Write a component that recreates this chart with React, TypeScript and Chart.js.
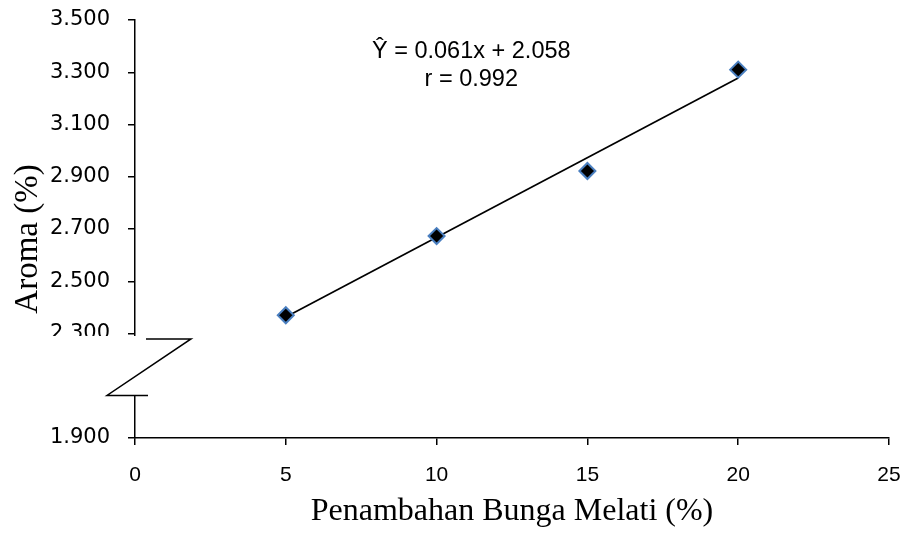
import React, { useEffect, useRef } from "react";
import { Chart, registerables } from "chart.js";

Chart.register(...registerables);

// ---- data ----
const categories = [5, 10, 15, 20];
const aromaValues = [2.37, 2.673, 2.922, 3.31];
const yTickValues = [1.9, 2.1, 2.3, 2.5, 2.7, 2.9, 3.1, 3.3, 3.5];
const xTickValues = [0, 5, 10, 15, 20, 25];
const trendSlope = 0.061;
const trendIntercept = 2.058;
const trendRange = [5, 20];
const equationLines = ["Ŷ = 0.061x + 2.058", "r = 0.992"];
const xTitle = "Penambahan Bunga Melati (%)";
const yTitle = "Aroma (%)";

// ---- layout / style constants ----
const BREAK_HI = 2.2905;
const BREAK_LO = 2.0627;
const EQ_X = 11.15;
const EQ_Y = 3.356;

const overlayPlugin = {
  id: "overlay",
  afterDraw(chart: any) {
    const { ctx, chartArea, scales } = chart;
    const xs = scales.x;
    const ys = scales.y;
    ctx.save();
    // axis break: white mask then zig-zag
    const top = ys.getPixelForValue(BREAK_HI);
    const bot = ys.getPixelForValue(BREAK_LO);
    const ax = chartArea.left;
    ctx.fillStyle = "#ffffff";
    ctx.fillRect(ax - 95, top, 97, bot - top);
    ctx.strokeStyle = "#000000";
    ctx.lineWidth = 1.5;
    ctx.beginPath();
    ctx.moveTo(ax + 11, top + 3);
    ctx.lineTo(ax + 56, top + 3);
    ctx.lineTo(ax - 28, bot);
    ctx.lineTo(ax + 13, bot);
    ctx.stroke();

    // equation text
    ctx.fillStyle = "#000000";
    ctx.font = '23.5px "Liberation Sans", Arial, sans-serif';
    ctx.textAlign = "center";
    ctx.textBaseline = "alphabetic";
    const ex = xs.getPixelForValue(EQ_X);
    const ey = ys.getPixelForValue(EQ_Y);
    equationLines.forEach((t, i) => ctx.fillText(t, ex, ey + i * 28.5));

    // axis titles
    ctx.font = '32px "Liberation Serif", "Times New Roman", serif';
    ctx.fillText(xTitle, (chartArea.left + chartArea.right) / 2, 520);
    ctx.save();
    ctx.font = '33px "Liberation Serif", "Times New Roman", serif';
    ctx.translate(37, 239);
    ctx.rotate(-Math.PI / 2);
    ctx.fillText(yTitle, 0, 0);
    ctx.restore();
    ctx.restore();
  },
};

export default function App() {
  const canvasRef = useRef<HTMLCanvasElement | null>(null);

  useEffect(() => {
    if (!canvasRef.current) return;
    const trendData = trendRange.map((x) => ({ x, y: trendSlope * x + trendIntercept }));
    const chart = new Chart(canvasRef.current, {
      type: "scatter",
      data: {
        datasets: [
          {
            type: "line",
            label: "trend",
            data: trendData,
            borderColor: "#000000",
            borderWidth: 1.7,
            pointRadius: 0,
            fill: false,
            order: 2,
          } as any,
          {
            label: "Aroma",
            data: categories.map((x, i) => ({ x, y: aromaValues[i] })),
            pointStyle: "rectRot",
            pointRadius: 8,
            pointBackgroundColor: "#000000",
            pointBorderColor: "#4a7fc0",
            pointBorderWidth: 2,
            order: 1,
          },
        ],
      },
      options: {
        animation: false,
        responsive: true,
        maintainAspectRatio: false,
        layout: { padding: { left: 0, top: 20, right: 17, bottom: 0 } },
        plugins: { legend: { display: false }, tooltip: { enabled: false } },
        scales: {
          x: {
            type: "linear",
            min: 0,
            max: 25,
            afterBuildTicks: (s: any) => {
              s.ticks = xTickValues.map((v) => ({ value: v }));
            },
            afterFit: (s: any) => {
              s.height = 95;
              s.paddingLeft = 0;
              s.paddingRight = 0;
              s.paddingTop = 0;
              s.paddingBottom = 0;
            },
            border: { display: true, color: "#000000", width: 1.5 },
            grid: { drawOnChartArea: false, drawTicks: true, tickLength: 7, color: "#000000", lineWidth: 1.5 },
            ticks: {
              color: "#000000",
              padding: 18,
              font: { family: '"Liberation Sans", Arial, sans-serif', size: 21 },
              callback: (v: any) => String(v),
            },
          },
          y: {
            type: "linear",
            min: 1.9,
            max: 3.5,
            afterBuildTicks: (s: any) => {
              s.ticks = yTickValues.map((v) => ({ value: v }));
            },
            afterFit: (s: any) => {
              s.width = 135;
              s.paddingLeft = 0;
              s.paddingRight = 0;
              s.paddingTop = 0;
              s.paddingBottom = 0;
            },
            border: { display: true, color: "#000000", width: 1.5 },
            grid: { drawOnChartArea: false, drawTicks: true, tickLength: 7, color: "#000000", lineWidth: 1.5 },
            ticks: {
              color: "#000000",
              padding: 18,
              font: { family: '"DejaVu Sans", sans-serif', size: 21 },
              callback: (v: any) => Number(v).toFixed(3),
            },
          },
        },
      },
      plugins: [overlayPlugin],
    });
    return () => chart.destroy();
  }, []);

  return (
    <div style={{ position: "absolute", left: 0, top: 0, width: 906, height: 533, background: "#fff" }}>
      <canvas ref={canvasRef} />
    </div>
  );
}
